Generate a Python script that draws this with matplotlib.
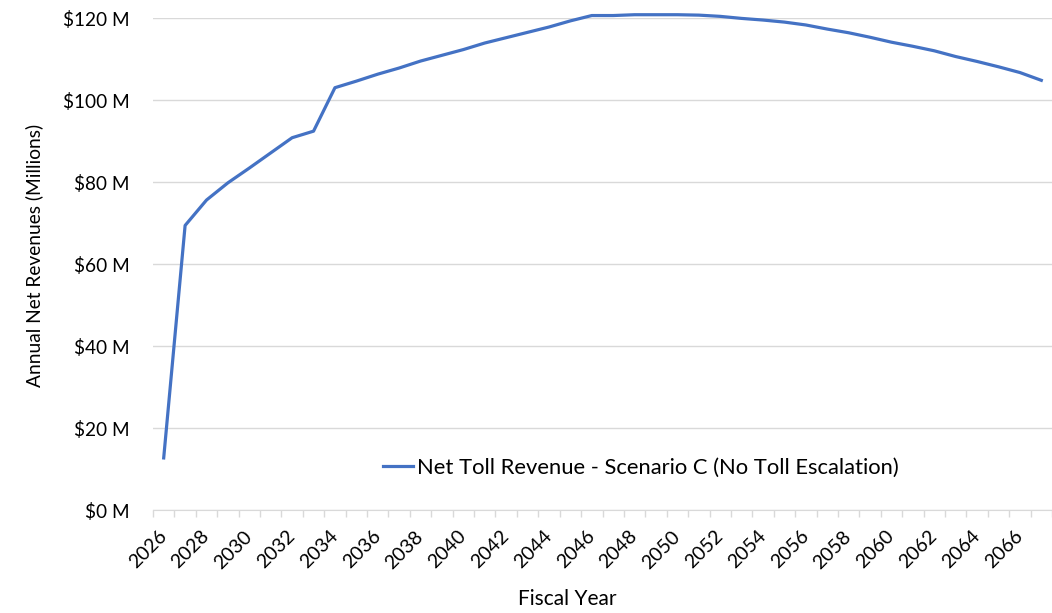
import matplotlib
matplotlib.use("Agg")
import matplotlib.pyplot as plt
from matplotlib.ticker import FuncFormatter, MultipleLocator

plt.rcParams['font.family'] = ['Lato', 'DejaVu Sans']

# fiscal years and net toll revenue ($ millions)
years = list(range(2026, 2068))
revenue = [12.7, 69.4, 75.6, 79.8, 83.4, 87.1, 90.8, 92.4, 103.0, 104.6,
           106.3, 107.8, 109.5, 110.9, 112.3, 113.9, 115.2, 116.5, 117.8, 119.3,
           120.6, 120.6, 120.8, 120.8, 120.8, 120.7, 120.4, 119.9, 119.5, 119.0,
           118.3, 117.3, 116.4, 115.3, 114.1, 113.1, 112.0, 110.6, 109.4, 108.1,
           106.7, 104.8]
series_name = "Net Toll Revenue - Scenario C (No Toll Escalation)"

fig = plt.figure(figsize=(10.52, 6.13), dpi=100)
ax = fig.add_axes([153/1052, 103/613, 899/1052, 492/613])

pos = list(range(len(years)))
ax.plot(pos, revenue, color='#4472C4', linewidth=2.3, label=series_name,
        solid_joinstyle='round', clip_on=False)

ax.set_xlim(-0.5, len(years) - 0.5)
ax.set_ylim(0, 120)
ax.yaxis.set_major_locator(MultipleLocator(20))
ax.yaxis.set_major_formatter(FuncFormatter(lambda v, p: f"${v:.0f} M"))
ax.grid(axis='y', color='#d9d9d9', linewidth=1)
ax.set_axisbelow(True)

# category axis: tick marks between years, a label every other year
ax.set_xticks([p for p in pos if p % 2 == 0])
ax.set_xticklabels([str(y) for y in years if (y - 2026) % 2 == 0],
                   rotation=45, ha='right', va='center', rotation_mode='anchor')
ax.set_xticks([p - 0.5 for p in pos] + [len(years) - 0.5], minor=True)
ax.tick_params(axis='x', which='major', length=0, pad=17, labelsize=14)
ax.tick_params(axis='x', which='minor', length=5, color='#d9d9d9', width=1)
ax.tick_params(axis='y', length=0, pad=17, labelsize=13.7)

for side in ['top', 'right', 'left']:
    ax.spines[side].set_visible(False)
ax.spines['bottom'].set_color('#d9d9d9')

ax.set_xlabel("Fiscal Year", fontsize=15)
ax.xaxis.set_label_coords((567 - 153) / 899, -(589 - 510) / 492)
ax.set_ylabel("Annual Net Revenues (Millions)", fontsize=13.8)
ax.yaxis.set_label_coords(-(153 - 43) / 899, (510 - 255) / 492)

ax.legend(loc='center', bbox_to_anchor=(0.543, 0.085), frameon=False,
          fontsize=15.8, handlelength=1.35, handletextpad=0.2)

fig.savefig("out.png", dpi=100)
